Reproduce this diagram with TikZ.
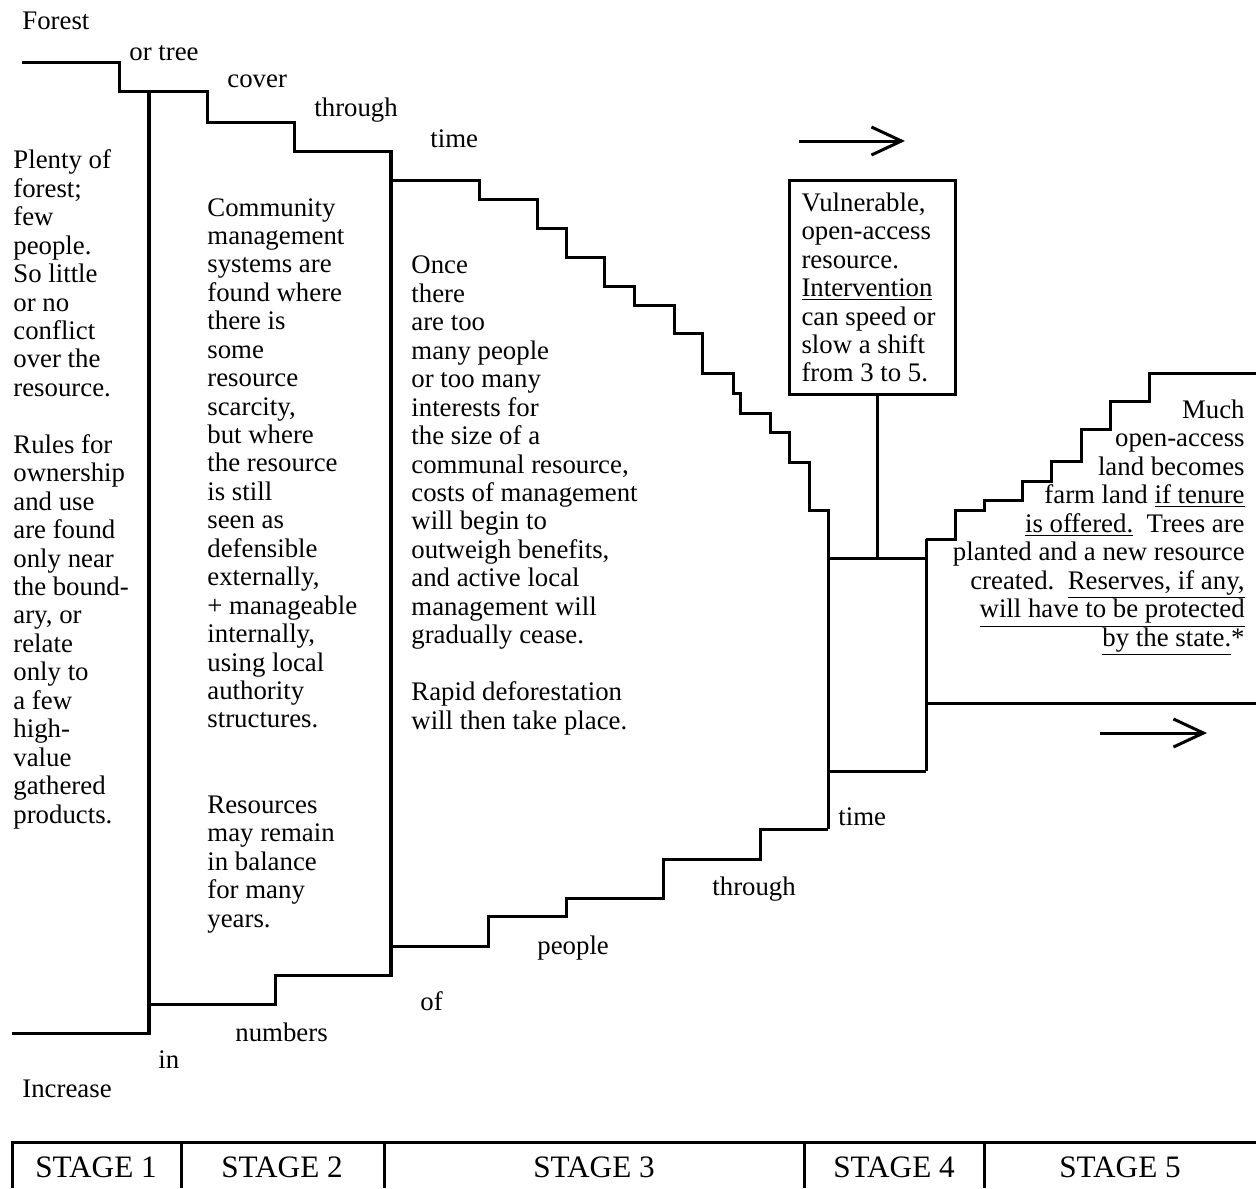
\documentclass[tikz,border=0pt]{standalone}
\usepackage{fontspec}
\setmainfont{Liberation Serif}
\usetikzlibrary{arrows.meta,positioning}

\newcommand{\txtfont}{\fontsize{13.4}{14.22}\selectfont}
\newcommand{\stagefont}{\fontsize{15.6}{18}\selectfont}

\tikzset{
    stair/.style={line width=1.5pt},
    wall/.style={line width=2pt},
    word/.style={inner sep=0pt, anchor=base west, font=\txtfont},
    para/.style={inner sep=0pt, anchor=base west, align=left, font=\txtfont},
    stagename/.style={inner sep=0pt, font=\stagefont},
    trend/.style={line width=1.5pt, -{Straight Barb[length=15pt,width=14pt]}}
}

\begin{document}
\begin{tikzpicture}[x=0.5pt, y=-0.5pt]
    \useasboundingbox (0,0) rectangle (1256,1188);

    % Forest cover steps
    \draw[stair] (22,63) -| (119,92) -| (207,122) -| (294,151) -| (391,180)
        -| (479,199) -| (537,228) -| (566,257) -| (604,286) -| (634,305)
        -| (674,333) -| (702,373) -| (733,393) -| (740,413) -| (770,432)
        -| (789,462) -| (809,510) -| (828,558);
    \draw[stair] (926,539) -| (955,510) -| (984,500) -| (1022,481) -| (1051,461)
        -| (1081,429) -| (1110,401) -| (1149,373) -- (1256,373);

    % Numbers of people steps
    \draw[stair] (12,1033) -| (149,1004) -| (275,975) -| (391,946) -| (488,916)
        -| (566,898) -| (663,859) -| (760,829) -- (828,829);
    \draw[stair] (926,703) -- (1256,703);

    % Stage walls
    \draw[wall] (149,92) -- (149,1033);
    \draw[wall] (391,151) -- (391,975);
    \draw[stair] (828,510) -- (828,829);
    \draw[stair] (926,539) -- (926,771);
    \draw[stair] (828,558) -- (926,558);
    \draw[stair] (828,771) -- (926,771);

    % Axis words
    \node[word] (forest) at (22,30) {Forest};
    \node[word] (ortree) at (129,61) {or tree};
    \node[word] (cover) at (227,88) {cover};
    \node[word] (through-up) at (314,117) {through};
    \node[word] (time-up) at (430,147) {time};
    \node[word] (increase) at (22,1097) {Increase};
    \node[word] (in) at (158,1068) {in};
    \node[word] (numbers) at (235,1041) {numbers};
    \node[word] (of) at (420,1010) {of};
    \node[word] (people) at (537,954) {people};
    \node[word] (through-low) at (712,895) {through};
    \node[word] (time-low) at (838,825) {time};

    % Trend arrows
    \draw[trend] (799,141) -- (905,141);
    \draw[trend] (1100,733) -- (1207,733);

    % Stage texts (anchored at the last line)
    \node[para] (stage1-text) at (13,823) {Plenty of\\forest;\\few\\people.\\So little\\or no\\conflict\\over the\\resource.\\[14.22pt]Rules for\\ownership\\and use\\are found\\only near\\the bound-\\ary, or\\relate\\only to\\a few\\high-\\value\\gathered\\products.};
    \node[para] (stage2-text) at (207,927) {Community\\management\\systems are\\found where\\there is\\some\\resource\\scarcity,\\but where\\the resource\\is still\\seen as\\defensible\\externally,\\+ manageable\\internally,\\using local\\authority\\structures.\\[28.44pt]Resources\\may remain\\in balance\\for many\\years.};
    \node[para] (stage3-text) at (411,729) {Once\\there\\are too\\many people\\or too many\\interests for\\the size of a\\communal resource,\\costs of management\\will begin to\\outweigh benefits,\\and active local\\management will\\gradually cease.\\[14.22pt]Rapid deforestation\\will then take place.};
    \node[draw, line width=1.5pt, anchor=north west, inner xsep=6pt, inner ysep=0pt,
        text width=71pt, minimum height=107pt, align=flush left, font=\txtfont]
        (vulnerable) at (788,179) {Vulnerable,\\open-access\\resource.\\\underline{Intervention}\\can speed or\\slow a shift\\from 3 to 5.};
    \coordinate (box-top) at (877,558);
    \draw[stair] (box-top |- vulnerable.south) -- (box-top);
    \node[para, anchor=base east, align=right] (stage5-text) at (1245,646) {Much\\open-access\\land becomes\\farm land \underline{if tenure}\\\underline{is offered.}\ \ Trees are\\planted and a new resource\\created.\ \ \underline{Reserves, if any,}\\\underline{will have to be protected}\\\underline{by the state.}*};

    % Stage table
    \draw[stair] (12,1188) |- (1256,1142);
    \foreach \x in {181,384,804,984}
        \draw[stair] (\x,1142) -- (\x,1188);
    \node[stagename] (stage1) at (96,1167) {STAGE 1};
    \node[stagename] (stage2) at (282,1167) {STAGE 2};
    \node[stagename] (stage3) at (594,1167) {STAGE 3};
    \node[stagename] (stage4) at (894,1167) {STAGE 4};
    \node[stagename] (stage5) at (1120,1167) {STAGE 5};
\end{tikzpicture}
\end{document}
